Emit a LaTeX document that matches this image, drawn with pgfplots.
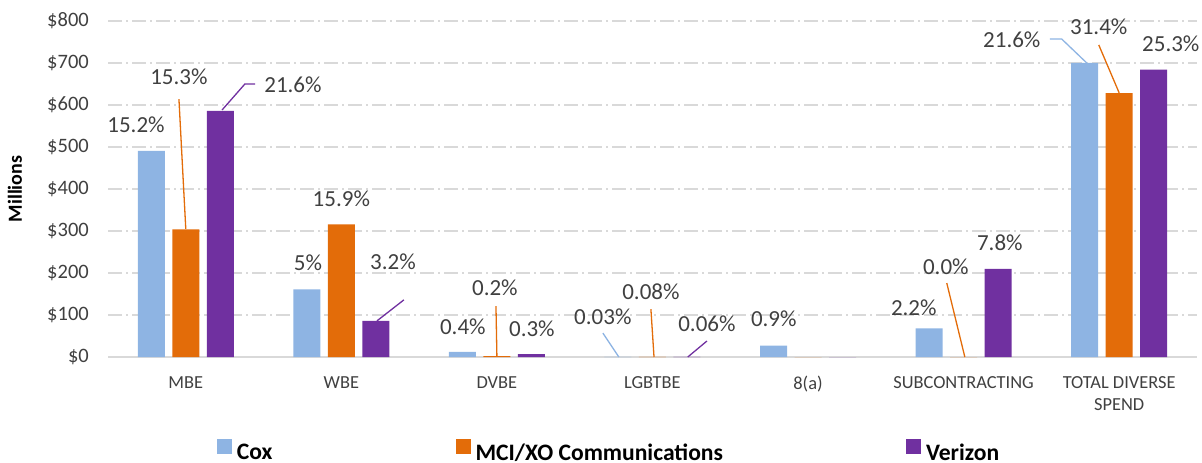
\documentclass[border=0pt]{standalone}
\usepackage{fontspec}
\setmainfont{Carlito}
\usepackage{pgfplots}
\pgfplotsset{compat=1.18}
\definecolor{coxc}{HTML}{8EB4E3}
\definecolor{mcic}{HTML}{E36C09}
\definecolor{verc}{HTML}{7030A0}
\definecolor{gridc}{HTML}{D9D9D9}
\definecolor{txt}{HTML}{404040}
\tikzset{lbl/.style={text=txt, font=\fontsize{23bp}{27bp}\selectfont, inner sep=0pt, anchor=center}}
\begin{document}
\begin{tikzpicture}
\useasboundingbox (0,0) rectangle (1202bp,463bp);
\begin{axis}[
  at={(108bp,106bp)}, anchor=south west,
  scale only axis, width=1089bp, height=336bp,
  xmin=-0.5, xmax=6.5, ymin=0, ymax=800,
  clip=false,
  ybar=7.5bp, bar width=27bp,
  xtick={0,...,6},
  xticklabels={MBE,WBE,DVBE,LGBTBE,8(a),SUBCONTRACTING,{TOTAL DIVERSE\\SPEND}},
  ytick={0,100,...,800},
  yticklabels={\$0,\$100,\$200,\$300,\$400,\$500,\$600,\$700,\$800},
  xticklabel style={anchor=north, inner sep=0pt, yshift=-19bp, align=center, font=\fontsize{18.4bp}{22bp}\selectfont, text=txt},
  yticklabel style={anchor=east, inner sep=0pt, xshift=-19bp, font=\fontsize{20.5bp}{24bp}\selectfont, text=txt},
  major tick length=0pt, tick style={draw=none},
  axis lines*=left,
  y axis line style={draw=none},
  x axis line style={draw=gridc, line width=1.5bp},
  ymajorgrids,
  major grid style={draw=gridc, line width=1.5bp, dash pattern=on 14bp off 4bp on 2bp off 4bp},
  ylabel={Millions},
  every axis y label/.style={at={(axis description cs:-0.0854,0.5)}, rotate=90, anchor=center},
  ylabel style={font=\bfseries\fontsize{20bp}{24bp}\selectfont, text=black},
  legend image code/.code={\fill[#1] (0bp,-1bp) rectangle (15bp,14bp);},
  legend columns=3,
  legend style={at={(0.1001,-0.278)}, anchor=west, draw=none, fill=none, inner sep=0pt, outer sep=0pt,
    font=\bfseries\fontsize{23.6bp}{27bp}\selectfont, text=black,
    column sep=5bp, /tikz/every even column/.append style={column sep=183bp},
    nodes={inner sep=0pt, outer sep=0pt}},
]
\addplot[fill=coxc, draw=none] coordinates {(0,491) (1,161) (2,12) (3,0.5) (4,27) (5,68) (6,700)};
\addlegendentry{Cox}
\addplot[fill=mcic, draw=none] coordinates {(0,304) (1,316) (2,2) (3,0.5) (4,0) (5,0) (6,628)};
\addlegendentry{MCI/XO Communications}
\addplot[fill=verc, draw=none] coordinates {(0,586) (1,86) (2,7) (3,0.5) (4,0) (5,210) (6,684)};
\addlegendentry{Verizon}

% leader lines
\draw[mcic, line width=1.3bp] (axis cs:-0.044,614) -- (axis cs:0,305);
\draw[verc, line width=1.3bp] (axis cs:0.233,588) -- (axis cs:0.380,650) -- (axis cs:0.445,650);
\draw[verc, line width=1.3bp] (axis cs:1.229,86) -- (axis cs:1.402,136);
\draw[mcic, line width=1.3bp] (axis cs:1.994,121) -- (axis cs:2.0,2);
\draw[coxc, line width=1.3bp] (axis cs:2.681,57) -- (axis cs:2.784,0);
\draw[mcic, line width=1.3bp] (axis cs:2.99,114) -- (axis cs:3.01,0);
\draw[verc, line width=1.3bp] (axis cs:3.35,38) -- (axis cs:3.227,0);
\draw[mcic, line width=1.3bp] (axis cs:4.892,176) -- (axis cs:5.008,0);
\draw[coxc, line width=1.3bp] (axis cs:5.554,757) -- (axis cs:5.631,757) -- (axis cs:5.792,700);
\draw[mcic, line width=1.3bp] (axis cs:5.869,743) -- (axis cs:6.0,629);

% data labels
\node[lbl] at (axis cs:-0.320,552) {15.2\%};
\node[lbl] at (axis cs:-0.044,667) {15.3\%};
\node[lbl] at (axis cs:0.689,648) {21.6\%};
\node[lbl] at (axis cs:0.785,224) {5\%};
\node[lbl] at (axis cs:1.0,376) {15.9\%};
\node[lbl] at (axis cs:1.332,226) {3.2\%};
\node[lbl] at (axis cs:1.781,71) {0.4\%};
\node[lbl] at (axis cs:1.987,164) {0.2\%};
\node[lbl] at (axis cs:2.225,67) {0.3\%};
\node[lbl] at (axis cs:2.681,95) {0.03\%};
\node[lbl] at (axis cs:2.990,155) {0.08\%};
\node[lbl] at (axis cs:3.350,79) {0.06\%};
\node[lbl] at (axis cs:3.780,90) {0.9\%};
\node[lbl] at (axis cs:4.680,117) {2.2\%};
\node[lbl] at (axis cs:4.886,214) {0.0\%};
\node[lbl] at (axis cs:5.233,271) {7.8\%};
\node[lbl] at (axis cs:5.310,755) {21.6\%};
\node[lbl] at (axis cs:5.869,786) {31.4\%};
\node[lbl] at (axis cs:6.332,745) {25.3\%};
\end{axis}
\end{tikzpicture}
\end{document}
